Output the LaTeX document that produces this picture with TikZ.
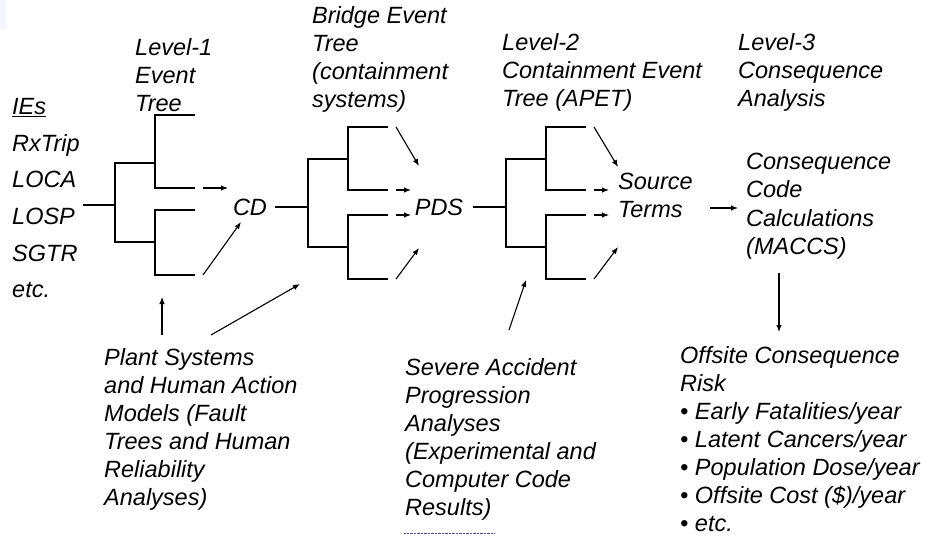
\documentclass[tikz,border=0pt]{standalone}
\usepackage{fontspec}
\setmainfont{Liberation Sans}
\usetikzlibrary{arrows.meta}

\begin{document}
\begin{tikzpicture}[
        x=1pt, y=-1pt,
        % base west = baseline of the last line
        txt/.style={anchor=base west, inner sep=0pt, align=left,
            font=\itshape\fontsize{23.5}{28}\selectfont},
        treeline/.style={line width=2pt},
        arr/.style={line width=1.1pt, -{Latex[length=7pt,width=5.5pt]}},
    ]
    \useasboundingbox (0,0) rectangle (925,537);

    % initiating events
    \node[txt] (ies) at (12,115) {\underline{IEs}};
    \foreach \ie [count=\i] in {RxTrip, LOCA, LOSP, SGTR, etc.}
        \node[txt] (ie\i) at (12,115+36.5*\i) {\ie};

    % headings
    \node[txt] (lvlone) at (135,112) {Level-1\\Event\\Tree};
    \node[txt] (bridge) at (312,108) {Bridge Event\\Tree\\(containment\\systems)};
    \node[txt] (lvltwo) at (502,107) {Level-2\\Containment Event\\Tree (APET)};
    \node[txt] (lvlthree) at (738,107) {Level-3\\Consequence\\Analysis};

    % end states
    \node[txt, anchor=center] (cd) at (250,207) {CD};
    \node[txt, anchor=center] (pds) at (439,207) {PDS};
    \node[txt] (src) at (618,218) {Source\\Terms};
    \node[txt] (macc) at (746,254) {Consequence\\Code\\Calculations\\(MACCS)};
    \node[txt] (risk) at (680,531) {Offsite Consequence\\Risk\\%
        • Early Fatalities/year\\• Latent Cancers/year\\%
        • Population Dose/year\\• Offsite Cost (\$)/year\\• etc.};

    % supporting analyses
    \node[txt] (plant) at (104,505) {Plant Systems\\and Human Action\\Models (Fault\\Trees and Human\\Reliability\\Analyses)};
    \node[txt] (sev) at (405,515) {Severe Accident\\Progression\\Analyses\\(Experimental and\\Computer Code\\Results)};

    % level-1 event tree
    \draw[treeline] (83,205) -- (115,205);
    \draw[treeline] (155,163) -| (115,242) -- (155,242);
    \draw[treeline] (195,115) -| (155,188) -- (195,188);
    \draw[treeline] (195,210) -| (155,275) -- (195,275);

    % bridge tree and APET (same shape)
    \foreach \dx in {0,198} {
        \begin{scope}[xshift=\dx]
            \draw[treeline] (348,159) -| (308,247) -- (348,247);
            \draw[treeline] (388,127) -| (348,190) -- (388,190);
            \draw[treeline] (388,215) -| (348,279) -- (388,279);
        \end{scope}
    }
    \draw[treeline, shorten <=8pt] (cd) -- (308,207);
    \draw[treeline, shorten <=10pt] (pds) -- (506,207);

    % arrow ends
    \coordinate (cda) at (203,188);  \coordinate (cdA) at (228,188);
    \coordinate (cdb) at (203,275);  \coordinate (cdB) at (241,222);
    \coordinate (pda) at (396,127);  \coordinate (pdA) at (419,166);
    \coordinate (pdb) at (396,190);  \coordinate (pdB) at (411,190);
    \coordinate (pdc) at (396,215);  \coordinate (pdC) at (411,215);
    \coordinate (pdd) at (396,279);  \coordinate (pdD) at (419,248);
    \coordinate (sta) at (594,127);  \coordinate (stA) at (618,167);
    \coordinate (stb) at (594,190);  \coordinate (stB) at (609,190);
    \coordinate (stc) at (594,215);  \coordinate (stC) at (609,215);
    \coordinate (std) at (594,279);  \coordinate (stD) at (618,247);
    \coordinate (mca) at (710,208);  \coordinate (mcA) at (738,208);
    \coordinate (rka) at (779,273);  \coordinate (rkA) at (779,332);
    \coordinate (pla) at (162,335);  \coordinate (plA) at (162,297);
    \coordinate (plb) at (211,335);  \coordinate (plB) at (300,284);
    \coordinate (sva) at (509,330);  \coordinate (svA) at (526,280);

    \foreach \f/\t in {cda/cdA, cdb/cdB, pda/pdA, pdb/pdB, pdc/pdC, pdd/pdD,
            sta/stA, stb/stB, stc/stC, std/stD, mca/mcA, rka/rkA,
            pla/plA, plb/plB, sva/svA}
        \draw[arr] (\f) -- (\t);

    % leftovers of the original slide
    \fill[blue!4] (0,0) rectangle (6,30);
    \draw[blue!40!gray, densely dotted] (404,533) -- (495,533);
\end{tikzpicture}
\end{document}
